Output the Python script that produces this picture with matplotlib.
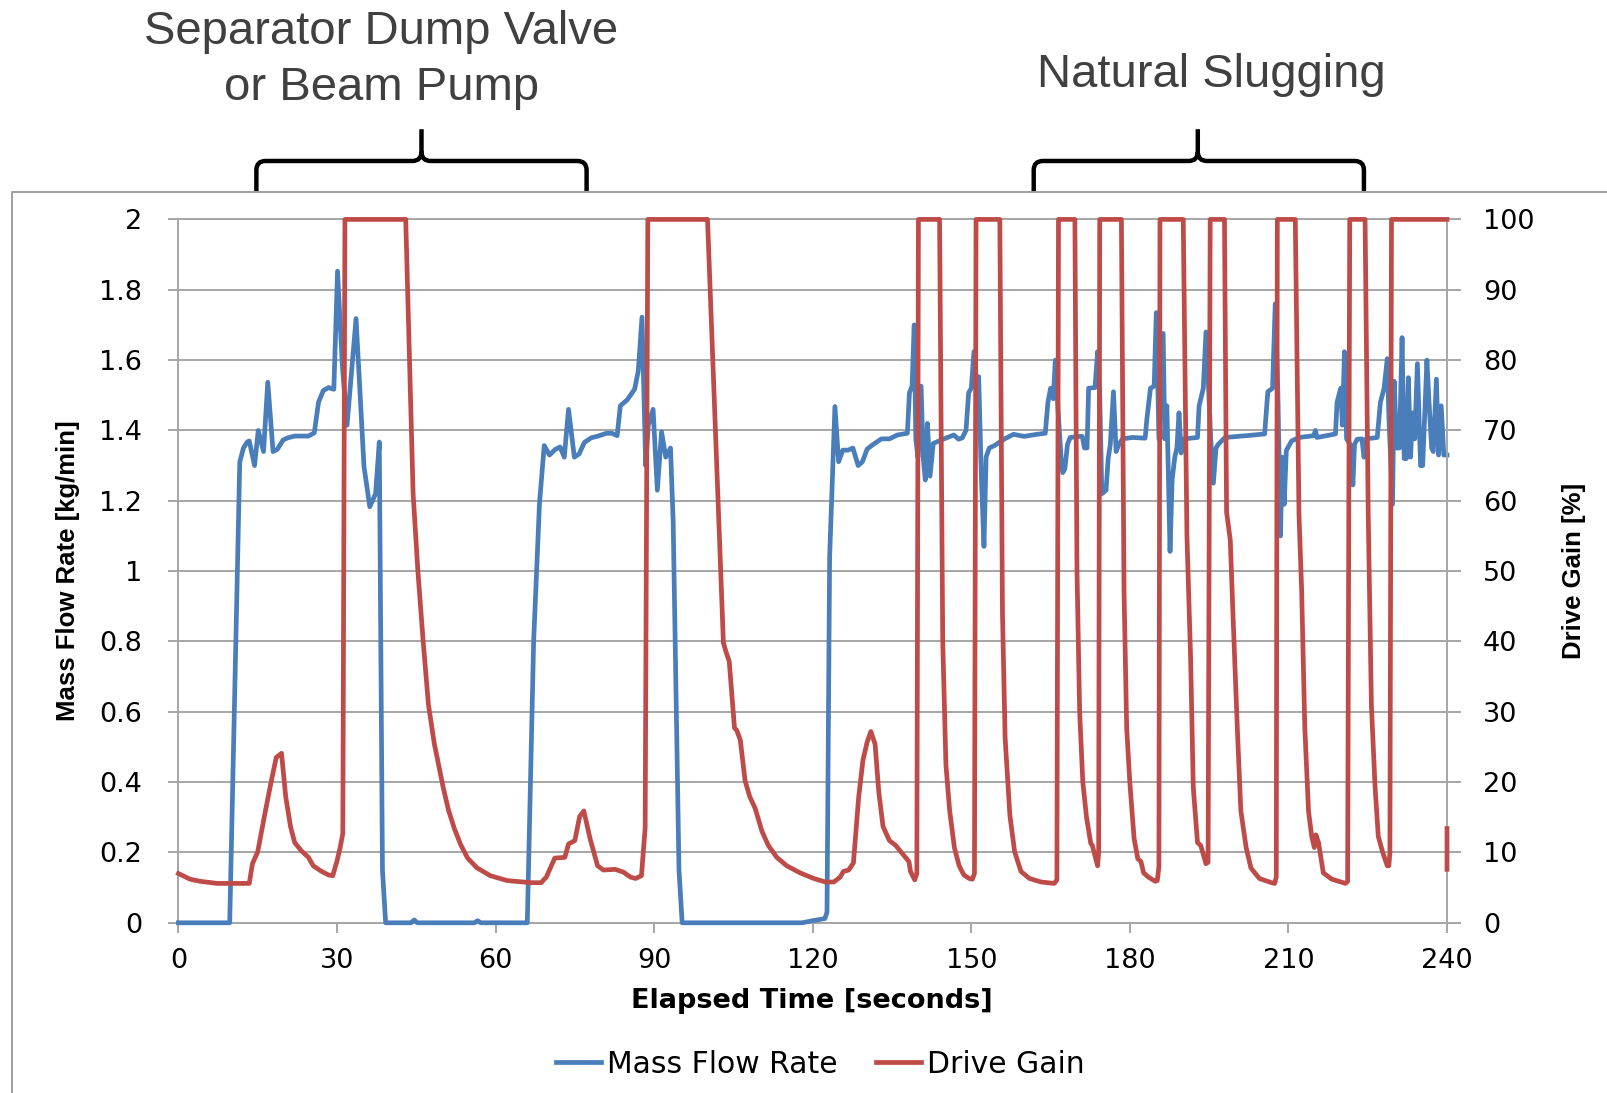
import numpy as np
import matplotlib
matplotlib.use("Agg")
import matplotlib.pyplot as plt
from matplotlib.path import Path
from matplotlib.patches import PathPatch
import matplotlib.font_manager as fm

# ---------------- data ----------------
mass_t = [0, 9.7, 11.6, 12.3, 13.0, 13.4, 14.4, 15.1, 16.1, 16.9, 17.9, 18.7, 19.8, 20.7, 22.0, 24.6,
          25.7, 26.5, 27.4, 28.4, 29.4, 30.1, 31.0, 31.9, 33.6, 35.1, 36.2, 37.3, 38.0, 38.6, 39.2,
          44.0, 44.6, 45.2, 56.0, 56.6, 57.2, 66.0, 67.2, 68.3, 69.2, 70.2, 71.3, 72.2, 73.0, 73.8,
          74.9, 75.8, 76.8, 78.1, 79.4, 81.0, 82.0, 83.0, 83.6, 84.9, 86.3, 87.0, 87.7, 88.4, 88.9,
          89.8, 90.6, 91.4, 92.2, 93.1, 93.6, 94.7, 95.3, 118.0, 120.0, 122.3, 122.7, 123.2, 124.2,
          124.9, 125.7, 126.7, 127.6, 128.6, 129.4, 130.3, 131.4, 133.0, 134.5, 136.0, 137.9, 138.3,
          138.8, 139.2, 139.5, 139.9, 140.5, 140.9, 141.3, 141.7, 142.2, 142.8, 144.2, 145.5, 146.7,
          147.6, 148.3, 149.0, 149.5, 150.0, 150.5, 150.9, 151.4, 151.9, 152.4, 152.8, 153.4, 154.4,
          156.3, 158.0, 160.0, 162.4, 164.0, 164.5, 165.0, 165.5, 165.9, 166.4, 167.0, 167.3, 167.7,
          168.2, 168.7, 170.5, 171.0, 171.4, 171.9, 172.2, 173.4, 173.9, 174.3, 174.7, 175.5, 175.9,
          176.3, 176.9, 177.4, 177.9, 178.6, 180.5, 182.9, 183.2, 183.9, 184.6, 185.0, 185.5, 186.3,
          186.6, 187.0, 187.6, 188.0, 188.5, 188.9, 189.3, 189.7, 190.2, 192.8, 193.1, 193.9, 194.4,
          194.9, 195.3, 195.8, 196.3, 196.7, 198.0, 202.0, 205.5, 206.1, 207.0, 207.5, 208.0, 208.5,
          208.8, 209.2, 209.6, 210.6, 212.0, 214.8, 215.1, 215.4, 218.9, 219.2, 219.9, 220.2, 220.6,
          221.0, 221.7, 222.2, 222.5, 223.0, 223.9, 224.3, 224.7, 226.8, 227.4, 228.1, 228.7, 229.0,
          229.7, 230.0, 230.5, 231.0, 231.5, 231.9, 232.3, 232.7, 233.1, 233.5, 233.9, 234.4, 235.0,
          235.4, 236.2, 236.6, 237.1, 237.4, 238.0, 238.4, 238.9, 239.4, 240.0]
mass_v = [0, 0, 1.31, 1.35, 1.367, 1.37, 1.30, 1.40, 1.34, 1.537, 1.34, 1.346, 1.373, 1.379, 1.384, 1.384,
          1.393, 1.48, 1.513, 1.522, 1.517, 1.853, 1.585, 1.415, 1.718, 1.298, 1.183, 1.22, 1.367, 0.15, 0,
          0, 0.008, 0, 0, 0.006, 0, 0, 0.80, 1.19, 1.357, 1.33, 1.346, 1.353, 1.324, 1.46,
          1.324, 1.333, 1.366, 1.379, 1.384, 1.392, 1.392, 1.385, 1.47, 1.487, 1.517, 1.569, 1.722, 1.30, 1.415,
          1.46, 1.23, 1.396, 1.324, 1.35, 1.14, 0.15, 0, 0, 0.006, 0.012, 0.03, 1.04, 1.468,
          1.311, 1.344, 1.344, 1.35, 1.30, 1.311, 1.347, 1.36, 1.376, 1.376, 1.387, 1.392, 1.507,
          1.526, 1.70, 1.376, 1.324, 1.526, 1.324, 1.259, 1.42, 1.27, 1.363, 1.372, 1.38, 1.387,
          1.375, 1.379, 1.40, 1.507, 1.52, 1.624, 1.52, 1.553, 1.27, 1.07, 1.324, 1.35, 1.357,
          1.376, 1.389, 1.383, 1.389, 1.392, 1.48, 1.52, 1.49, 1.60, 1.46, 1.32, 1.28, 1.29,
          1.36, 1.38, 1.383, 1.383, 1.35, 1.35, 1.52, 1.522, 1.624, 1.50, 1.22, 1.23, 1.32,
          1.36, 1.51, 1.34, 1.36, 1.376, 1.38, 1.378, 1.43, 1.52, 1.526, 1.735, 1.376, 1.676,
          1.376, 1.47, 1.056, 1.26, 1.324, 1.35, 1.45, 1.336, 1.376, 1.38, 1.47, 1.52, 1.68,
          1.52, 1.376, 1.25, 1.35, 1.36, 1.38, 1.385, 1.39, 1.51, 1.52, 1.76, 1.51, 1.10,
          1.324, 1.19, 1.343, 1.37, 1.38, 1.385, 1.40, 1.38, 1.39, 1.48, 1.52, 1.415, 1.624,
          1.376, 1.36, 1.245, 1.36, 1.375, 1.376, 1.324, 1.376, 1.38, 1.48, 1.52, 1.604, 1.44,
          1.19, 1.54, 1.35, 1.35, 1.664, 1.32, 1.32, 1.55, 1.324, 1.45, 1.376, 1.59, 1.30,
          1.30, 1.60, 1.48, 1.35, 1.34, 1.546, 1.33, 1.47, 1.33, 1.33]

gain_t = [0, 2.2, 4.1, 7.3, 13.4, 14.0, 15.0, 16.3, 17.5, 18.5, 19.5, 20.3, 21.2, 22.0, 23.3, 24.6,
          25.5, 27.1, 28.4, 29.2, 30.0, 30.6, 31.1, 31.5, 43.0, 44.4, 45.3, 46.3, 47.3, 48.4, 49.2,
          50.1, 51.1, 52.2, 53.4, 54.7, 56.5, 59.0, 62.2, 66.7, 68.6, 69.6, 71.2, 73.1, 73.8, 75.0,
          75.9, 76.7, 77.9, 79.3, 80.4, 82.6, 84.2, 85.5, 86.5, 87.6, 88.3, 88.8, 100.1, 103.1,
          103.6, 104.2, 105.2, 105.6, 106.3, 107.2, 108.1, 109.1, 110.4, 111.6, 113.2, 115.1, 117.6,
          120.2, 122.4, 124.0, 125.2, 125.8, 126.8, 127.7, 128.7, 129.5, 130.3, 131.0, 131.8, 132.5,
          133.3, 134.5, 135.7, 136.9, 138.2, 138.5, 139.3, 139.7, 140.0, 144.0, 144.6, 145.2, 145.9,
          146.8, 147.7, 148.6, 149.6, 150.2, 150.6, 150.9, 155.4, 155.9, 156.4, 157.3, 158.2, 159.4,
          161.0, 163.2, 165.7, 166.2, 166.5, 169.6, 170.0, 170.5, 171.1, 171.8, 172.6, 172.9, 173.9,
          174.1, 174.3, 178.4, 178.9, 179.4, 180.0, 180.8, 181.5, 182.1, 182.6, 183.5, 184.8, 185.2,
          185.5, 185.7, 190.1, 190.8, 191.5, 192.0, 192.8, 193.4, 194.4, 194.8, 195.2, 197.9, 198.3,
          199.0, 199.5, 200.4, 201.0, 202.0, 202.9, 204.5, 206.8, 207.4, 207.7, 207.9, 211.3, 212.0,
          212.5, 213.1, 213.8, 214.4, 214.9, 215.2, 215.7, 216.6, 218.2, 220.8, 221.2, 221.6, 224.5,
          225.1, 225.7, 226.4, 227.0, 227.8, 228.7, 229.0, 229.2, 229.5, 240.0, np.nan, 240.0, 240.0]
gain_v = [7.0, 6.2, 5.9, 5.6, 5.6, 8.4, 10.1, 15.3, 19.9, 23.5, 24.1, 17.9, 13.7, 11.4, 10.2, 9.3,
          8.1, 7.3, 6.8, 6.7, 8.8, 10.7, 12.7, 100, 100, 61, 50, 40, 31, 25.5, 22.5,
          19.2, 16.0, 13.4, 11.1, 9.2, 7.8, 6.7, 6.0, 5.7, 5.7, 6.5, 9.2, 9.3, 11.2, 11.7,
          15.1, 15.9, 11.9, 8.1, 7.5, 7.6, 7.2, 6.5, 6.3, 6.7, 13.5, 100, 100, 39.8,
          38.5, 37.2, 27.7, 27.4, 26.0, 20.2, 17.9, 16.3, 13.0, 11.0, 9.3, 8.1, 7.1,
          6.3, 5.8, 5.8, 6.5, 7.3, 7.5, 8.5, 17.9, 23.1, 25.7, 27.2, 25.4, 18.6,
          13.7, 11.7, 11.0, 9.9, 8.7, 7.3, 6.1, 7.0, 100, 100, 40, 22.5, 16,
          10.7, 8.1, 6.8, 6.3, 6.2, 7.0, 100, 100, 44, 26.3, 15.3, 10.1, 7.3,
          6.3, 5.8, 5.6, 6.1, 100, 100, 50, 30, 20, 15, 11.3, 11.0, 8.1,
          10, 100, 100, 47, 27.7, 19.9, 12.0, 9.1, 8.7, 7.1, 6.5, 5.9, 6.0,
          8, 100, 100, 55, 37.5, 19.2, 11.4, 11.0, 8.4, 8.6, 100, 100, 58.4,
          54.4, 44, 26.4, 15.9, 10.7, 7.8, 6.3, 5.7, 5.6, 6.5, 100, 100, 58,
          47.3, 27.7, 15.9, 12.3, 10.7, 12.5, 11.4, 7.1, 6.2, 5.6, 5.9, 100, 100,
          58, 30.9, 19.2, 12.3, 10.1, 8.1, 8.1, 10, 100, 100, np.nan, 13.4, 7.6]

x_ticks = [0, 30, 60, 90, 120, 150, 180, 210, 240]
left_ticks = [0, 0.2, 0.4, 0.6, 0.8, 1.0, 1.2, 1.4, 1.6, 1.8, 2.0]
left_labels = ['0', '0.2', '0.4', '0.6', '0.8', '1', '1.2', '1.4', '1.6', '1.8', '2']
right_ticks = [0, 10, 20, 30, 40, 50, 60, 70, 80, 90, 100]
right_labels = [str(v) for v in right_ticks]

# ---------------- style ----------------
BLUE = '#4a7ebb'
RED = '#be4b48'
GRID = '#a6a6a6'
TXT = '#404040'
LW = 3.4

names = {f.name for f in fm.fontManager.ttflist}
if 'Liberation Sans Narrow' in names:
    yfam, ysize = 'Liberation Sans Narrow', 21.5
else:
    yfam, ysize = 'Liberation Sans', 18.5

W, H = 1568.0, 1066.0   # layout reference frame
fig = plt.figure(figsize=(16.08, 10.93), dpi=100)

# overlay for annotations / frame
ov = fig.add_axes([0, 0, 1, 1])
ov.set_xlim(0, W)
ov.set_ylim(H, 0)
ov.axis('off')
ov.plot([12, 12, W + 5], [H + 5, 187, 187], color='#a0a0a0', lw=1.4, clip_on=False)


def brace(x0, x1, xm, ytop, ymid, ybot, r=9):
    verts = [(x0, ybot), (x0, ymid + r), (x0, ymid), (x0 + r, ymid), (xm - r, ymid),
             (xm, ymid), (xm, ymid - r), (xm, ytop),
             (xm, ymid - r), (xm, ymid), (xm + r, ymid), (x1 - r, ymid), (x1, ymid),
             (x1, ymid + r), (x1, ybot)]
    codes = [Path.MOVETO, Path.LINETO, Path.CURVE3, Path.CURVE3, Path.LINETO,
             Path.CURVE3, Path.CURVE3, Path.LINETO,
             Path.MOVETO, Path.CURVE3, Path.CURVE3, Path.LINETO, Path.CURVE3,
             Path.CURVE3, Path.LINETO]
    ov.add_patch(PathPatch(Path(verts, codes), fill=False, lw=3.2, ec='black',
                           capstyle='butt', joinstyle='round'))


brace(250, 572, 411, 126, 157, 187)
brace(1008, 1330, 1168, 126, 157, 187)

ov.text(372, 31, 'Separator Dump Valve', ha='center', va='center', fontsize=34,
        family='Liberation Sans', color=TXT)
ov.text(372, 86, 'or Beam Pump', ha='center', va='center', fontsize=34,
        family='Liberation Sans', color=TXT)
ov.text(1181, 73, 'Natural Slugging', ha='center', va='center', fontsize=34,
        family='Liberation Sans', color=TXT)

# main axes
ax = fig.add_axes([174 / W, 1 - 900 / H, (1411 - 174) / W, (900 - 214) / H])
ax.patch.set_alpha(0)
ax.plot(mass_t, mass_v, color=BLUE, lw=LW, clip_on=False, zorder=3, solid_joinstyle='round')
ax.set_xlim(0, 240)
ax.set_ylim(0, 2)
ax.set_xticks(x_ticks)
ax.set_xticklabels([str(v) for v in x_ticks])
ax.set_yticks(left_ticks)
ax.set_yticklabels(left_labels)
ax.yaxis.grid(True, color=GRID, lw=1.4)
ax.set_axisbelow(True)
for s in ['left', 'bottom', 'top']:
    ax.spines[s].set_color(GRID)
    ax.spines[s].set_linewidth(1.4)
ax.spines['right'].set_visible(False)
ax.tick_params(axis='y', length=7, width=1.4, color=GRID, pad=19, labelsize=19.5)
ax.tick_params(axis='x', length=7, width=1.4, color=GRID, pad=11, labelsize=19.5)

ax2 = ax.twinx()
ax2.plot(gain_t, gain_v, color=RED, lw=LW, clip_on=False, zorder=4, solid_joinstyle='round')
ax2.set_ylim(0, 100)
ax2.set_yticks(right_ticks)
ax2.set_yticklabels(right_labels)
for s in ['left', 'bottom', 'top']:
    ax2.spines[s].set_visible(False)
ax2.spines['right'].set_color(GRID)
ax2.spines['right'].set_linewidth(1.4)
ax2.tick_params(axis='y', length=10, width=1.4, color=GRID, pad=16, labelsize=19.5)

fig.text(792 / W, 1 - 976 / H, 'Elapsed Time [seconds]', ha='center', va='center',
         fontsize=19.5, fontweight='bold', family='DejaVu Sans')
fig.text(66 / W, 1 - 557 / H, 'Mass Flow Rate [kg/min]', ha='center', va='center',
         rotation=90, fontsize=ysize, fontweight='bold', family=yfam)
fig.text(1535 / W, 1 - 557 / H, 'Drive Gain [%]', ha='center', va='center',
         rotation=90, fontsize=ysize, fontweight='bold', family=yfam)

h1, = ax.plot([], [], color=BLUE, lw=LW)
h2, = ax.plot([], [], color=RED, lw=LW)
fig.legend([h1, h2], ['Mass Flow Rate', 'Drive Gain'], loc='center',
           bbox_to_anchor=(800 / W, 1 - 1038 / H), ncol=2, frameon=False,
           fontsize=21.5, handlelength=1.5, handletextpad=0.2, columnspacing=1.3)

fig.savefig('out.png', dpi=100)
